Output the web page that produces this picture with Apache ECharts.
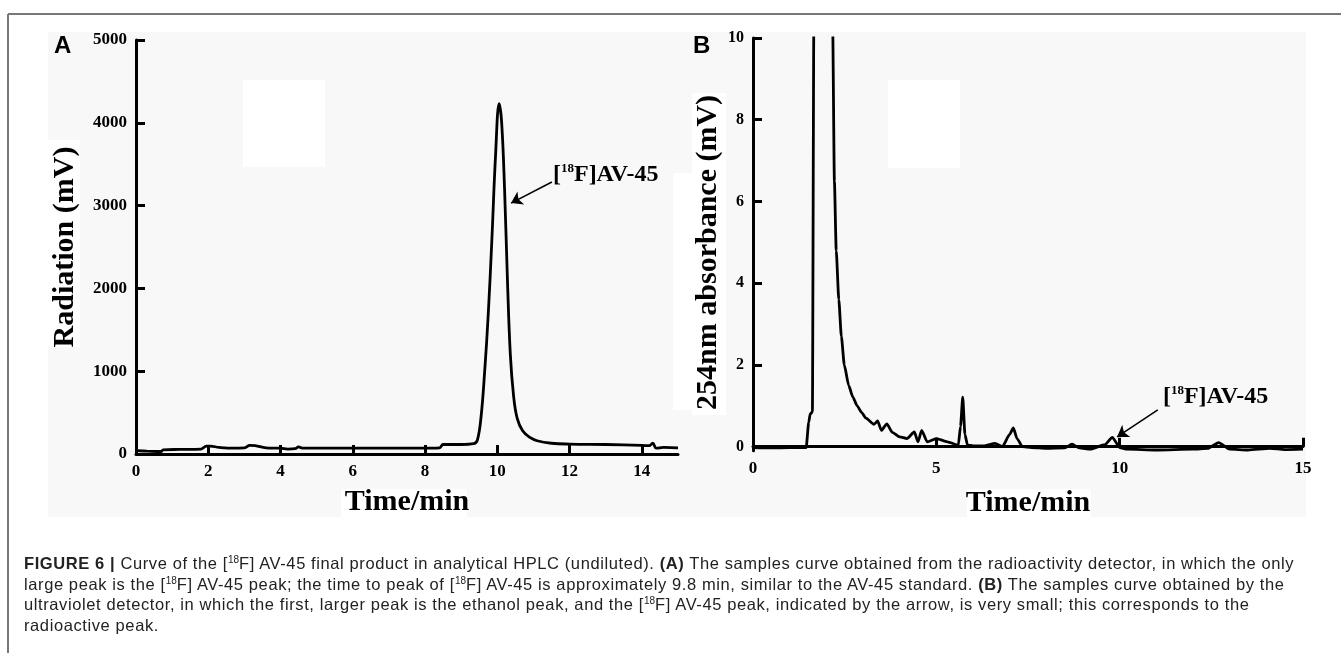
<!DOCTYPE html>
<html>
<head>
<meta charset="utf-8">
<script src="https://cdn.jsdelivr.net/npm/echarts@6/dist/echarts.min.js"></script>
<style>
  html, body { margin: 0; padding: 0; background: #fff; }
  #main { position: absolute; left: 0; top: 0; width: 1341px; height: 653px; }
  #caption {
    position: absolute; left: 24px; top: 553px;
    font-family: 'Liberation Sans Narrow', 'Liberation Sans', Arial, sans-serif;
    font-size: 16.5px; letter-spacing: 0.6px; line-height: 20.5px; color: #222; white-space: nowrap;
  }
  #caption sup { font-size: 10px; line-height: 0; vertical-align: 6px; letter-spacing: 0; }
</style>
</head>
<body>
<div id="main"></div>
<div id="caption">
  <div><b>FIGURE 6 |</b> Curve of the [<sup>18</sup>F] AV-45 final product in analytical HPLC (undiluted). <b>(A)</b> The samples curve obtained from the radioactivity detector, in which the only</div>
  <div>large peak is the [<sup>18</sup>F] AV-45 peak; the time to peak of [<sup>18</sup>F] AV-45 is approximately 9.8 min, similar to the AV-45 standard. <b>(B)</b> The samples curve obtained by the</div>
  <div>ultraviolet detector, in which the first, larger peak is the ethanol peak, and the [<sup>18</sup>F] AV-45 peak, indicated by the arrow, is very small; this corresponds to the</div>
  <div>radioactive peak.</div>
</div>
<script>
// panel A: radioactivity detector
var timeA = [0, 0.3, 0.7, 0.75, 1.2, 1.8, 1.95, 2.05, 2.3, 2.7, 3.0, 3.15, 3.3, 3.6, 4.0, 4.2, 4.4, 4.5, 4.6, 5, 6, 7, 8, 8.4, 8.5, 9.0, 9.35, 9.45, 9.55, 9.65, 9.75, 9.85, 9.95, 10.05, 10.12, 10.2, 10.28, 10.36, 10.45, 10.55, 10.7, 10.9, 11.1, 11.5, 12, 13, 14, 14.2, 14.3, 14.4, 14.6, 15];
var radA  = [40, 35, 30, 50, 55, 60, 95, 95, 80, 70, 75, 105, 100, 75, 70, 60, 65, 85, 70, 70, 70, 70, 70, 75, 115, 115, 125, 170, 450, 1000, 1700, 2600, 3600, 4230, 4000, 3200, 2100, 1200, 700, 430, 280, 200, 160, 130, 120, 115, 105, 100, 130, 70, 80, 75];
// panel B: UV 254nm
var timeB = [0, 0.5, 1.0, 1.45, 1.52, 1.56, 1.62, 1.66, 1.75, 2.05, 2.17, 2.22, 2.27, 2.34, 2.41, 2.49, 2.61, 2.72, 2.84, 2.96, 3.08, 3.3, 3.4, 3.5, 3.65, 3.8, 4.0, 4.2, 4.4, 4.5, 4.6, 4.75, 5.0, 5.3, 5.6, 5.66, 5.72, 5.78, 5.85, 6.0, 6.3, 6.6, 6.8, 7.0, 7.1, 7.2, 7.35, 7.6, 8.0, 8.5, 8.7, 8.9, 9.2, 9.6, 9.8, 10.0, 10.2, 11, 12, 12.4, 12.7, 13.0, 13.5, 14.1, 14.5, 15];
var absB  = [-0.02, -0.03, -0.02, -0.02, 0.6, 0.8, 0.85, 10.5, 13, 13, 10.5, 6.5, 4.8, 3.6, 2.7, 2.0, 1.5, 1.22, 1.0, 0.84, 0.7, 0.55, 0.63, 0.4, 0.56, 0.35, 0.24, 0.2, 0.36, 0.12, 0.4, 0.12, 0.2, 0.12, 0.04, 0.5, 1.21, 0.3, 0.04, 0.02, 0.02, 0.08, 0.0, 0.3, 0.46, 0.2, 0.0, -0.02, -0.04, -0.03, 0.06, -0.03, -0.06, 0.05, 0.23, -0.02, -0.06, -0.08, -0.06, -0.04, 0.1, -0.06, -0.08, -0.04, -0.07, -0.06];

var xTicksA = [0, 2, 4, 6, 8, 10, 12, 14];
var yTicksA = [0, 1000, 2000, 3000, 4000, 5000];
var xTicksB = [0, 5, 10, 15];
var yTicksB = [0, 2, 4, 6, 8, 10];

// arrow tail/head and label anchor for the [18F]AV-45 notes
var arrowA = [[11.51, 3285], [10.38, 3030]];
var noteA = [11.54, 3370];
var arrowB = [[11.04, 0.9], [9.93, 0.24]];
var noteB = [11.18, 1.22];

var serif = "'Liberation Serif', 'Times New Roman', serif";

function pairs(t, v) {
    return t.map(function (x, i) { return [x, v[i]]; });
}

function valueAxis(idx, min, max, ticks, fs, extra) {
    var ax = {
        type: 'value', gridIndex: idx, min: min, max: max,
        splitLine: { show: false },
        axisLine: { show: true, lineStyle: { color: '#000', width: 3 } },
        axisTick: { show: true, inside: true, length: 9, customValues: ticks, lineStyle: { color: '#000', width: 3 } },
        axisLabel: {
            customValues: ticks, color: '#000', fontFamily: serif, fontWeight: 'bold', fontSize: fs, margin: 9,
            formatter: function (v) { return String(v); }
        },
        nameTextStyle: { color: '#000', fontFamily: serif, fontWeight: 'bold', fontSize: 30 }
    };
    for (var k in extra) ax[k] = extra[k];
    return ax;
}

var note = {
    show: true, position: 'right', distance: 0,
    formatter: '{b|[}{s|18}{b|F]AV-45}',
    rich: {
        b: { fontFamily: serif, fontWeight: 'bold', fontSize: 24, color: '#000', lineHeight: 26 },
        s: { fontFamily: serif, fontWeight: 'bold', fontSize: 13, color: '#000', lineHeight: 13, verticalAlign: 'top' }
    }
};

function arrowLine(a) {
    return {
        silent: true, symbol: ['none', 'arrow'], symbolSize: 11,
        lineStyle: { color: '#000', width: 1.6, type: 'solid' },
        label: { show: false },
        data: [[{ coord: a[0] }, { coord: a[1] }]]
    };
}

var myChart = echarts.init(document.getElementById('main'));
var option = {
    backgroundColor: '#fff',
    animation: false,
    title: [
        { text: 'A', left: 49, top: 29, textStyle: { fontFamily: "'Liberation Sans', Arial, sans-serif", fontWeight: 'bold', fontSize: 24, color: '#000' } },
        { text: 'B', left: 688, top: 29, textStyle: { fontFamily: "'Liberation Sans', Arial, sans-serif", fontWeight: 'bold', fontSize: 24, color: '#000' } }
    ],
    graphic: [
        { type: 'line', z: -5, shape: { x1: 8, y1: 14, x2: 1341, y2: 14 }, style: { stroke: '#777', lineWidth: 2 } },
        { type: 'line', z: -5, shape: { x1: 8, y1: 14, x2: 8, y2: 653 }, style: { stroke: '#777', lineWidth: 2 } },
        { type: 'rect', z: -10, shape: { x: 48, y: 32, width: 1258, height: 485 }, style: { fill: '#f8f8f8' } },
        { type: 'rect', z: -9, shape: { x: 243, y: 80, width: 82, height: 87 }, style: { fill: '#fff' } },
        { type: 'rect', z: -9, shape: { x: 888, y: 80, width: 72, height: 88 }, style: { fill: '#fff' } },
        { type: 'rect', z: -9, shape: { x: 48, y: 140, width: 32, height: 207 }, style: { fill: '#fff' } },
        { type: 'rect', z: -9, shape: { x: 673, y: 173, width: 53, height: 237 }, style: { fill: '#fff' } },
        { type: 'rect', z: -9, shape: { x: 692, y: 93, width: 34, height: 322 }, style: { fill: '#fff' } },
        { type: 'rect', z: -9, shape: { x: 341, y: 489, width: 126, height: 28 }, style: { fill: '#fff' } },
        { type: 'rect', z: -9, shape: { x: 967, y: 489, width: 124, height: 28 }, style: { fill: '#fff' } }
    ],
    grid: [
        { left: 136, right: 663, top: 40, bottom: 199 },
        { left: 753, right: 38, top: 38, bottom: 202.2 }
    ],
    xAxis: [
        valueAxis(0, 0, 15, xTicksA, 17, { name: 'Time/min', nameLocation: 'middle', nameGap: 33 }),
        valueAxis(1, 0, 15, xTicksB, 17, { name: 'Time/min', nameLocation: 'middle', nameGap: 37 })
    ],
    yAxis: [
        valueAxis(0, 0, 5000, yTicksA, 17, { name: 'Radiation (mV)', nameLocation: 'middle', nameRotate: 90, nameGap: 56 }),
        valueAxis(1, -0.1, 10, yTicksB, 16, { name: '254nm absorbance (mV)', nameLocation: 'middle', nameRotate: 90, nameGap: 30 })
    ],
    series: [
        {
            name: 'Radiation', type: 'line', xAxisIndex: 0, yAxisIndex: 0,
            data: pairs(timeA, radA), showSymbol: false, smooth: 0.4, clip: true,
            lineStyle: { color: '#000', width: 2.8 },
            markLine: arrowLine(arrowA),
            markPoint: { silent: true, symbolSize: 0, label: note, data: [{ coord: noteA }] }
        },
        {
            name: '254nm', type: 'line', xAxisIndex: 1, yAxisIndex: 1,
            data: pairs(timeB, absB), showSymbol: false, smooth: 0.2, smoothMonotone: 'x', clip: true,
            lineStyle: { color: '#000', width: 2.8 },
            markLine: arrowLine(arrowB),
            markPoint: { silent: true, symbolSize: 0, label: note, data: [{ coord: noteB }] }
        }
    ]
};
// nudge the long B axis title a little lower, as in the figure
option.yAxis[1].nameTextStyle.padding = [0, 16, 0, 0];
myChart.setOption(option);
window.addEventListener('resize', function () {
    myChart.resize();
});
</script>
</body>
</html>
